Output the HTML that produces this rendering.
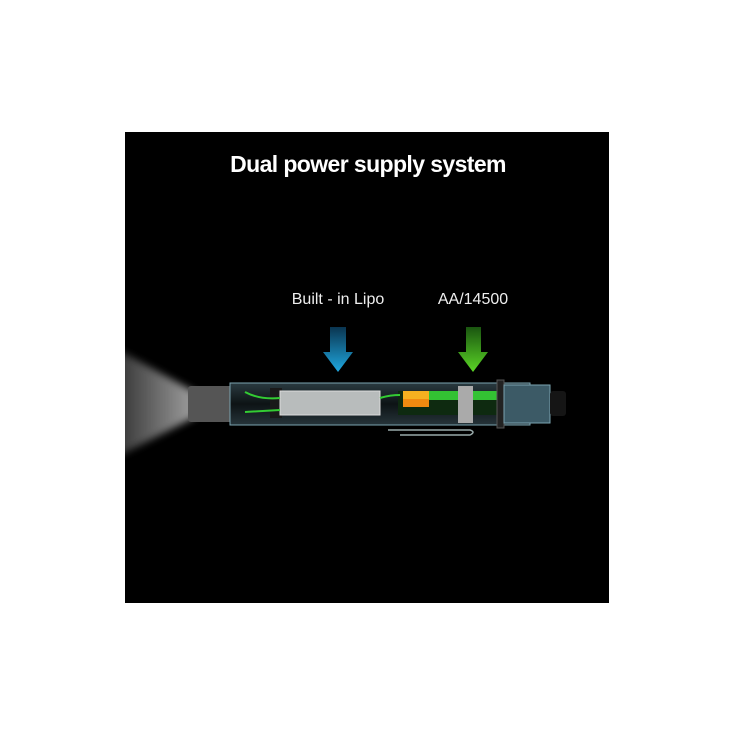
<!DOCTYPE html>
<html><head><style>
html,body{margin:0;padding:0;background:#fff;width:735px;height:735px;overflow:hidden}
#bg{position:absolute;left:125px;top:132px;width:484px;height:471px;background:#000;overflow:hidden}
.t{position:absolute;color:#fff;font-family:"Liberation Sans",sans-serif;white-space:nowrap}
</style></head><body>
<div id="bg"></div>
<div class="t" style="left:228px;top:151px;width:280px;text-align:center;font-size:23px;font-weight:bold;letter-spacing:-0.6px">Dual power supply system</div>
<div class="t" style="left:278px;top:291px;width:120px;text-align:center;font-size:16px;color:#eee">Built - in Lipo</div>
<div class="t" style="left:423px;top:291px;width:100px;text-align:center;font-size:16px;color:#eee">AA/14500</div>
<svg width="735" height="735" style="position:absolute;left:0;top:0">
<defs>
<linearGradient id="beam" x1="1" y1="0" x2="0" y2="0"><stop offset="0" stop-color="#bbb"/><stop offset="1" stop-color="#3a3a3a"/></linearGradient>
<filter id="bl"><feGaussianBlur stdDeviation="4"/></filter>
<linearGradient id="blue" x1="0" y1="0" x2="0" y2="1"><stop offset="0" stop-color="#0a3550"/><stop offset="1" stop-color="#1fa8e0"/></linearGradient>
<linearGradient id="green" x1="0" y1="0" x2="0" y2="1"><stop offset="0" stop-color="#1a5510"/><stop offset="1" stop-color="#5bd626"/></linearGradient>
<linearGradient id="tube" x1="0" y1="0" x2="0" y2="1"><stop offset="0" stop-color="#2a3a40"/><stop offset="0.5" stop-color="#0d1315"/><stop offset="1" stop-color="#26343a"/></linearGradient>
<clipPath id="c"><rect x="125" y="132" width="484" height="471"/></clipPath>
</defs>
<polygon clip-path="url(#c)" points="115,348 195,392 195,417 115,458" fill="url(#beam)" filter="url(#bl)" opacity="0.85"/>
<polygon points="330,327 346,327 346,352 353,352 338,372 323,352 330,352" fill="url(#blue)"/>
<polygon points="466,327 481,327 481,352 488,352 473,372 458,352 466,352" fill="url(#green)"/>
<rect x="188" y="386" width="50" height="36" fill="#555" rx="3"/>
<rect x="230" y="383" width="300" height="42" fill="url(#tube)" stroke="#7aa3b0" stroke-width="1"/>
<rect x="270" y="388" width="12" height="30" fill="#1a1a1a"/>
<rect x="280" y="391" width="100" height="24" fill="#b8bcbc" stroke="#ddd"/>
<rect x="398" y="391" width="100" height="24" fill="#0e2a10"/>
<rect x="403" y="391" width="95" height="9" fill="#33c233"/>
<rect x="403" y="391" width="26" height="8" fill="#f5b020"/>
<rect x="403" y="399" width="26" height="8" fill="#f08a10"/>
<rect x="458" y="386" width="15" height="37" fill="#aaa"/>
<rect x="497" y="380" width="7" height="48" fill="#222" stroke="#555"/>
<rect x="504" y="385" width="46" height="38" fill="#3c5a66" stroke="#7aa3b0"/>
<rect x="550" y="391" width="16" height="25" fill="#151515" rx="3"/>
<path d="M245 392 Q260 400 280 398 M380 398 Q390 395 400 395 M245 412 L280 410" stroke="#33cc33" stroke-width="2" fill="none"/>
<path d="M388 430 L470 430 Q476 432 470 435 L400 435" stroke="#9aa" stroke-width="1.5" fill="none"/>
</svg>
</body></html>
